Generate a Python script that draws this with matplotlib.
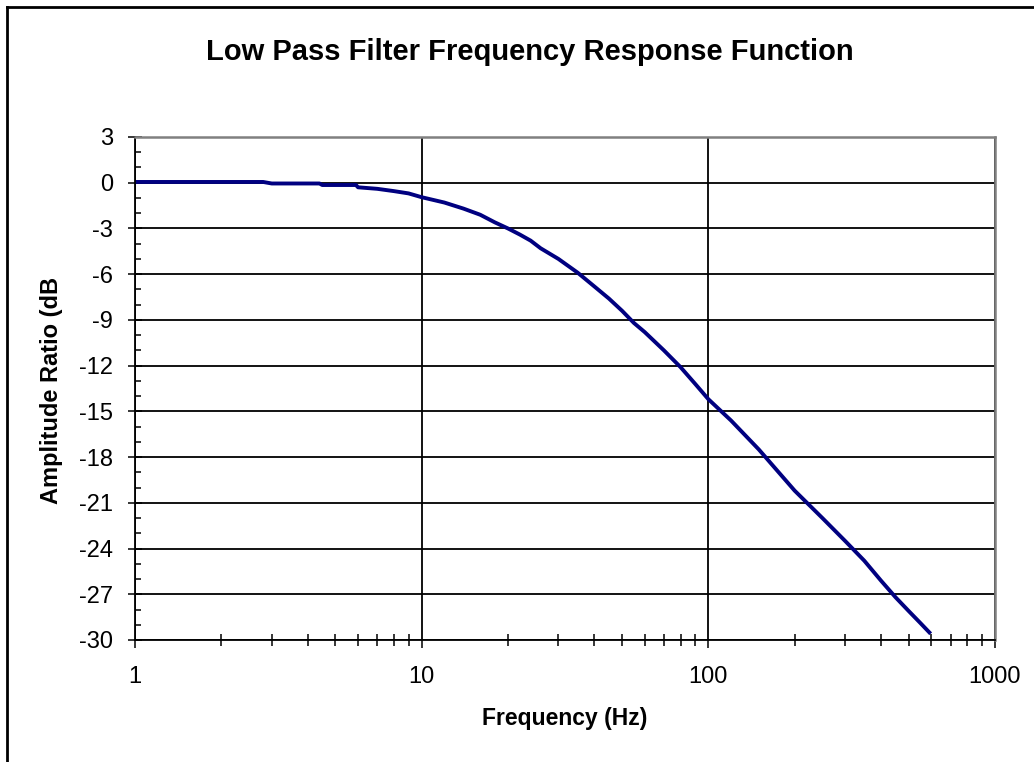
import matplotlib
matplotlib.use("Agg")
import matplotlib.pyplot as plt
from matplotlib.ticker import FixedLocator, FixedFormatter, MultipleLocator, LogLocator, NullFormatter
from matplotlib.lines import Line2D

# values
freq_hz = [1, 2, 2.8, 3.0, 4.4, 4.5, 5.9, 6, 7, 8, 9, 10, 12, 14, 16, 18, 20, 22, 24,
           26, 30, 35, 40, 45, 50, 55, 60, 70, 80, 90, 100, 120, 150, 200, 250, 300,
           350, 400, 450, 500, 550, 590]
amp_db = [0.05, 0.05, 0.05, -0.05, -0.05, -0.15, -0.15, -0.3, -0.4, -0.55, -0.7, -0.95,
          -1.3, -1.7, -2.1, -2.6, -3.0, -3.4, -3.8, -4.3, -5.0, -5.9, -6.8, -7.6, -8.4,
          -9.2, -9.8, -11.0, -12.1, -13.2, -14.2, -15.6, -17.5, -20.2, -22.0, -23.5,
          -24.8, -26.1, -27.2, -28.1, -28.9, -29.5]

x_ticks = [1, 10, 100, 1000]
x_tick_labels = ["1", "10", "100", "1000"]
y_ticks = list(range(-30, 4, 3))
y_tick_labels = [str(v) for v in y_ticks]  # plain hyphen, as in the reference

plt.rcParams['font.family'] = ['Liberation Sans', 'DejaVu Sans']

fig = plt.figure(figsize=(10.34, 7.62), dpi=100)
ax = fig.add_axes([135 / 1034, 1 - 640 / 762, 860 / 1034, 503 / 762])

ax.plot(freq_hz, amp_db, color='#000080', linewidth=2.8, solid_joinstyle='round')

ax.set_xscale('log')
ax.set_xlim(1, 1000)
ax.set_ylim(-30, 3)
ax.xaxis.set_major_locator(FixedLocator(x_ticks))
ax.xaxis.set_major_formatter(FixedFormatter(x_tick_labels))
ax.xaxis.set_minor_locator(LogLocator(base=10, subs=range(2, 10)))
ax.xaxis.set_minor_formatter(NullFormatter())
ax.yaxis.set_major_locator(FixedLocator(y_ticks))
ax.yaxis.set_major_formatter(FixedFormatter(y_tick_labels))
ax.yaxis.set_minor_locator(MultipleLocator(1))

ax.grid(True, which='major', color='black', linewidth=1.3)
ax.set_axisbelow(True)

for side in ['left', 'bottom']:
    ax.spines[side].set_color('black')
    ax.spines[side].set_linewidth(1.3)
for side in ['top', 'right']:
    ax.spines[side].set_color('#808080')
    ax.spines[side].set_linewidth(1.8)

ax.tick_params(axis='y', which='major', direction='inout', length=9.5, width=1.1,
               labelsize=17, pad=11)
ax.tick_params(axis='y', which='minor', direction='in', length=4.5, width=1.1)
ax.tick_params(axis='x', which='major', direction='out', length=6, width=1.1,
               labelsize=17, pad=13)
ax.tick_params(axis='x', which='minor', direction='inout', length=8, width=1.1)

ax.set_xlabel("Frequency (Hz)", fontsize=16.5, fontweight='bold')
ax.set_ylabel("Amplitude Ratio (dB", fontsize=17, fontweight='bold')
ax.xaxis.set_label_coords(0.5, (640 - 718) / 503)
ax.xaxis.label.set_va('center')
ax.yaxis.set_label_coords((52 - 135) / 860, (640 - 390) / 503)
ax.yaxis.label.set_va('center')

fig.text(530 / 1034, 1 - 52 / 762, "Low Pass Filter Frequency Response Function",
         ha='center', va='center', fontsize=21, fontweight='bold')

# outer chart frame (only top and left edges are in view)
fig.add_artist(Line2D([7 / 1034, 7 / 1034], [0, 1 - 7 / 762], color='black', linewidth=2,
                      transform=fig.transFigure))
fig.add_artist(Line2D([7 / 1034, 1], [1 - 7 / 762, 1 - 7 / 762], color='black', linewidth=2,
                      transform=fig.transFigure))

fig.savefig("out.png", dpi=100)
